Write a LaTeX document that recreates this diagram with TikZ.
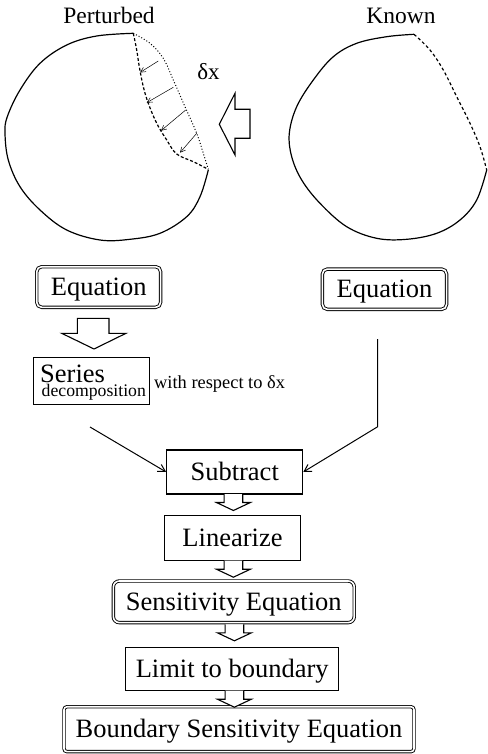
\documentclass[tikz,border=0pt]{standalone}
\usepackage{fontspec}
\setmainfont{Liberation Serif}
\usetikzlibrary{arrows.meta}
\begin{document}
\begin{tikzpicture}[x=1pt,y=-1pt,
  box/.style={draw, line width=1.1pt, inner sep=0pt,
    font=\fontsize{26.5}{30}\selectfont, text height=18pt, text depth=1pt},
  dbox/.style={box, line width=0.9pt, double, double distance=1.6pt},
  hollow/.style={draw, line width=1.1pt, fill=white, line join=miter},
  curve/.style={line width=1.2pt},
  conn/.style={line width=1pt, -{Straight Barb[length=7pt,width=8pt]}},
  small/.style={line width=0.5pt, -{Straight Barb[length=5pt,width=5pt]}},
  lbl/.style={inner sep=0pt, anchor=base},
  smalldown/.pic={\draw[hollow] (-9.3,0) -- (-9.3,8.5) -- (-17,8.5) -- (0,16.5) -- (17,8.5) -- (9.3,8.5) -- (9.3,0);}
]
\useasboundingbox (0,0) rectangle (487,754);

% ---------- labels on top ----------
\node[lbl, font=\fontsize{23.5}{26}\selectfont] (pert) at (109,23.3) {Perturbed};
\node[lbl, font=\fontsize{23.5}{26}\selectfont] (known) at (401,23.3) {Known};
\node[lbl, font=\fontsize{23}{26}\selectfont] (dx) at (208.5,80) {δx};

% ---------- perturbed shape ----------
\draw[curve] plot[smooth, tension=0.6] coordinates {(133.3,33.3) (96.7,36) (66.7,45) (40,63.3) (20,90) (7.3,116.7) (5,133.3) (8.3,160) (20,186.7) (40,210) (66.7,230) (100,240) (130,239.3) (160,233.3) (186.7,216.7) (200,196.7) (208.3,170)};
\draw[curve, dash pattern=on 3pt off 2pt] plot[smooth, tension=0.6] coordinates {(133.3,33.3) (136.7,50) (139.3,66.7) (143.3,86.7) (148.3,103.3) (156.7,123.3) (166.7,140) (176.7,154) (193.3,161.7) (208.3,169.3)};
\draw[line width=1pt, dash pattern=on 1pt off 2pt] plot[smooth, tension=0.6] coordinates {(133.3,33.3) (150,43.3) (163.3,58.3) (173.3,80) (185,106.7) (196.7,133.3) (203.3,153.3) (208.3,169.3)};

\coordinate (a1s) at (158.3,61);   \coordinate (a1e) at (140,72.5);
\coordinate (a2s) at (173.3,87.3); \coordinate (a2e) at (146.7,102.7);
\coordinate (a3s) at (185.7,110);  \coordinate (a3e) at (161,130.7);
\coordinate (a4s) at (196.7,133.3);\coordinate (a4e) at (180,152.7);
\draw[small] (a1s) -- (a1e);
\draw[small] (a2s) -- (a2e);
\draw[small] (a3s) -- (a3e);
\draw[small] (a4s) -- (a4e);

% big left-pointing hollow arrow
\draw[hollow] (250,109.3) -- (235,109.3) -- (235,93.3) -- (219.3,124.3) -- (235,155) -- (235,138.3) -- (250,138.3) -- cycle;

% ---------- known shape ----------
\draw[curve] plot[smooth, tension=0.6] coordinates {(414,34.3) (386.7,36.7) (356.7,43.3) (333.3,56.7) (313.3,80) (296.7,106.7) (289.3,133.3) (291.7,156.7) (301.7,180) (320,203.3) (346.7,226.7) (376.7,238.3) (406.7,239.3) (436.7,233.3) (460,220) (476.7,200) (486.7,170)};
\draw[curve, dash pattern=on 3pt off 2.5pt] plot[smooth, tension=0.6] coordinates {(414,34.3) (430,50) (443.3,70) (456.7,96.7) (470,123.3) (480,146.7) (486.7,170)};

% ---------- boxes ----------
\node[dbox, rounded corners=5pt, minimum width=123.9pt, minimum height=40.6pt] (eqL) at (98.7,287) {Equation};
\node[dbox, rounded corners=5pt, minimum width=124.2pt, minimum height=40.3pt] (eqR) at (384.5,289.2) {Equation};
\node[box, minimum width=115.7pt, minimum height=47pt] (series) at (91.2,380.8) {};
\node[lbl, anchor=base west, font=\fontsize{26.5}{28}\selectfont] (seriesT) at (40,382) {Series};
\node[lbl, anchor=base west, font=\fontsize{17.7}{20}\selectfont] (decT) at (41.5,396) {decomposition};
\node[lbl, anchor=base west, font=\fontsize{18.4}{20}\selectfont] (resp) at (154,388.3) {with respect to δx};
\node[box, minimum width=136pt, minimum height=44pt] (sub) at (234.7,472) {Subtract};
\node[box, minimum width=136.4pt, minimum height=45pt] (lin) at (232.5,538.2) {Linearize};
\node[dbox, rounded corners=6pt, minimum width=240.9pt, minimum height=41.6pt] (sens) at (233.8,601.8) {Sensitivity Equation};
\node[box, minimum width=213pt, minimum height=43.4pt] (lim) at (232.2,669) {Limit to boundary};
\node[dbox, rounded corners=3pt, minimum width=350pt, minimum height=44.9pt] (bnd) at (239,729.2) {Boundary Sensitivity Equation};

% ---------- hollow arrows ----------
\draw[hollow] (77.3,318.3) -- (109,318.3) -- (109,333.3) -- (126,333.3) -- (94,349) -- (61.7,333.3) -- (77.3,333.3) -- cycle;
\pic at (233.4,494) {smalldown};
\pic at (233.4,560.7) {smalldown};
\pic at (234.4,624.3) {smalldown};
\pic at (234.4,690.7) {smalldown};

% ---------- connectors ----------
\coordinate (s1) at (90,427);
\coordinate (r1) at (377.7,339);
\coordinate (r2) at (377.7,426.7);
\draw[conn] (s1) -- (sub.west);
\draw[conn, line join=miter] (r1) -- (r2) -- (sub.east);
\end{tikzpicture}
\end{document}
